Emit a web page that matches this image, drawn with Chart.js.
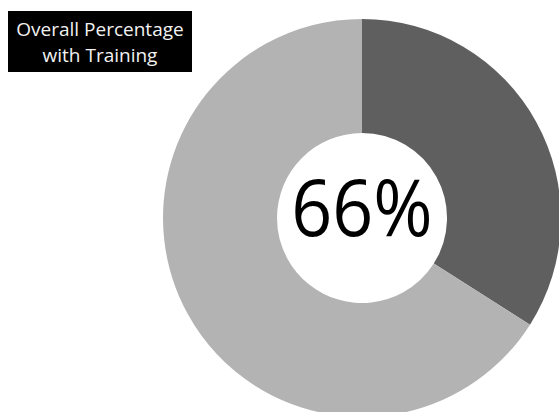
<!DOCTYPE html>
<html><head><meta charset="utf-8">
<script src="https://cdn.jsdelivr.net/npm/chart.js@4"></script>
<style>
html,body{margin:0;padding:0;width:559px;height:412px;overflow:hidden;background:#fff;position:relative}
#c{position:absolute;left:163px;top:19px}
#t{position:absolute;left:8px;top:11px;width:184px;height:61px;background:#000;color:#f2f2f2;
font-family:"Open Sans",sans-serif;font-size:19px;line-height:26px;text-align:center;box-sizing:border-box;padding-top:5px}
</style></head><body>
<div id="t">Overall Percentage<br>with Training</div>
<canvas id="c" width="398" height="398"></canvas>
<script>
const categories = ["Without Training", "With Training"];
const values = [34, 66];
const colors = ["#5f5f5f", "#b3b3b3"];
const centerLabel = "66%";

const centerText = {
  id: 'centerText',
  afterDraw(chart) {
    const {ctx} = chart;
    const meta = chart.getDatasetMeta(0).data[0];
    ctx.save();
    ctx.fillStyle = '#000';
    ctx.textAlign = 'center';
    ctx.textBaseline = 'middle';
    ctx.translate(meta.x, meta.y - 4);
    ctx.scale(0.92, 1);
    ctx.font = '78px "Open Sans", sans-serif';
    ctx.fillText(centerLabel, 0, 0);
    ctx.restore();
  }
};

new Chart(document.getElementById('c'), {
  type: 'doughnut',
  data: { labels: categories, datasets: [{ data: values, backgroundColor: colors, borderWidth: 0, hoverOffset: 0 }] },
  options: {
    responsive: false, animation: false, cutout: 85,
    layout: { padding: 0 },
    plugins: { legend: { display: false }, tooltip: { enabled: false }, title: { display: false } }
  },
  plugins: [centerText]
});
</script>
</body></html>
